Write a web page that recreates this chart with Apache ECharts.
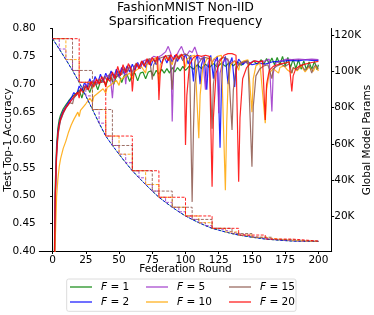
<!DOCTYPE html>
<html>
<head>
<meta charset="utf-8">
<script src="https://cdn.jsdelivr.net/npm/echarts@6/dist/echarts.min.js"></script>
<style>html,body{margin:0;padding:0;background:#fff}#c{width:374px;height:315px}</style>
</head>
<body>
<div id="c"></div>
<script>
// ---------------- data ----------------
const seriesNames = ['F=1', 'F=2', 'F=5', 'F=10', 'F=15', 'F=20'];
const frequencies = [1, 2, 5, 10, 15, 20];
const xTicks = [0, 25, 50, 75, 100, 125, 150, 175, 200];
const rightTicks = [20000, 40000, 60000, 80000, 100000, 120000];

// global model params (thousands) at every 5 rounds
const paramRounds = [0,5,10,15,20,25,30,35,40,45,50,55,60,65,70,75,80,85,90,95,100,105,110,115,120,125,130,135,140,145,150,155,160,165,170,175,180,185,190,195,200];
const paramsK = [118,112.3,106.5,100.5,94,86.5,79,71.5,64.4,59.2,54.4,49.7,45.3,41.4,37.7,34.1,30.7,27.9,25.2,22.7,20.4,18.5,16.7,15.1,13.6,12.6,11.6,10.7,9.9,9.3,8.7,8.2,7.7,7.4,7.1,6.85,6.6,6.5,6.45,6.43,6.42];

// test accuracy [round, acc]
const accF1 = [[1,0.33],[2,0.52],[3,0.59],[4,0.622],[5,0.637],[6,0.645],[8,0.656],[10,0.663],[12,0.67],[14,0.676],[16,0.68],[18,0.684],[20,0.69],[22,0.675],[24,0.693],[26,0.697],[28,0.685],[30,0.70],[32,0.703],[34,0.69],[36,0.705],[38,0.708],[40,0.698],[42,0.71],[44,0.712],[46,0.70],[48,0.714],[50,0.716],[52,0.703],[54,0.716],[56,0.718],[58,0.705],[60,0.718],[62,0.72],[64,0.706],[66,0.72],[68,0.722],[70,0.71],[72,0.722],[74,0.724],[76,0.715],[78,0.725],[80,0.718],[82,0.727],[84,0.72],[86,0.728],[88,0.72],[90,0.73],[92,0.722],[94,0.73],[96,0.724],[98,0.732],[100,0.725],[103,0.733],[106,0.727],[109,0.735],[112,0.728],[115,0.736],[118,0.73],[121,0.737],[124,0.731],[127,0.738],[130,0.732],[133,0.739],[136,0.733],[139,0.74],[142,0.734],[145,0.741],[148,0.735],[151,0.742],[154,0.736],[157,0.744],[159,0.736],[161,0.746],[163,0.737],[165,0.747],[167,0.735],[169,0.748],[171,0.735],[173,0.75],[175,0.733],[177,0.748],[179,0.73],[181,0.745],[183,0.728],[185,0.744],[187,0.727],[189,0.742],[191,0.726],[193,0.74],[195,0.727],[197,0.741],[199,0.726],[200,0.735]];
const accF2 = [[1,0.30],[2,0.50],[3,0.58],[4,0.615],[5,0.63],[6,0.64],[8,0.652],[10,0.66],[12,0.668],[14,0.675],[16,0.685],[18,0.68],[20,0.697],[22,0.688],[24,0.703],[26,0.694],[28,0.71],[30,0.698],[32,0.714],[34,0.702],[36,0.718],[38,0.705],[40,0.72],[42,0.708],[44,0.724],[46,0.712],[48,0.727],[50,0.715],[52,0.73],[54,0.718],[56,0.733],[58,0.722],[60,0.736],[62,0.725],[64,0.739],[66,0.728],[68,0.742],[70,0.73],[72,0.744],[74,0.733],[76,0.746],[78,0.735],[80,0.748],[82,0.737],[84,0.75],[86,0.738],[88,0.751],[90,0.74],[92,0.752],[94,0.741],[96,0.753],[98,0.742],[100,0.754],[102,0.736],[104,0.752],[106,0.705],[107,0.74],[109,0.752],[111,0.70],[112,0.735],[114,0.75],[116,0.69],[117,0.73],[119,0.752],[121,0.71],[122,0.74],[124,0.75],[126,0.586],[127,0.69],[128,0.735],[130,0.75],[132,0.70],[133,0.735],[135,0.748],[137,0.695],[138,0.73],[140,0.745],[143,0.735],[146,0.742],[150,0.735],[155,0.738],[160,0.736],[165,0.74],[170,0.741],[175,0.742],[180,0.743],[185,0.742],[190,0.744],[195,0.743],[200,0.743]];
const accF5 = [[1,0.30],[2,0.49],[3,0.575],[4,0.61],[5,0.625],[6,0.636],[8,0.648],[10,0.658],[13,0.668],[16,0.676],[19,0.684],[22,0.692],[25,0.696],[27,0.705],[29,0.697],[31,0.707],[33,0.70],[35,0.71],[37,0.703],[40,0.714],[43,0.717],[44,0.70],[45,0.675],[46,0.705],[48,0.72],[50,0.712],[52,0.724],[54,0.727],[55,0.70],[56,0.722],[58,0.73],[60,0.722],[62,0.733],[64,0.737],[66,0.73],[68,0.741],[70,0.744],[72,0.736],[74,0.746],[76,0.75],[79,0.748],[82,0.752],[85,0.758],[87,0.768],[89,0.755],[90,0.633],[91,0.72],[93,0.75],[95,0.76],[97,0.768],[99,0.755],[101,0.752],[103,0.76],[105,0.757],[107,0.767],[109,0.752],[111,0.745],[113,0.748],[115,0.69],[116,0.73],[118,0.745],[120,0.74],[122,0.745],[124,0.742],[125,0.648],[126,0.72],[128,0.74],[131,0.745],[134,0.738],[137,0.742],[140,0.735],[144,0.74],[148,0.737],[152,0.742],[156,0.74],[160,0.742],[163,0.745],[165,0.651],[166,0.72],[168,0.738],[172,0.742],[176,0.745],[180,0.744],[185,0.745],[190,0.744],[195,0.745],[200,0.744]];
const accF10 = [[1,0.28],[2,0.42],[3,0.498],[4,0.53],[5,0.552],[6,0.566],[8,0.585],[10,0.598],[12,0.614],[14,0.627],[16,0.637],[19,0.65],[20,0.642],[21,0.653],[23,0.659],[25,0.665],[28,0.675],[30,0.668],[31,0.678],[34,0.684],[38,0.692],[40,0.684],[41,0.694],[44,0.699],[48,0.707],[50,0.698],[51,0.708],[54,0.713],[58,0.72],[60,0.71],[61,0.722],[64,0.727],[67,0.731],[70,0.72],[71,0.736],[74,0.741],[78,0.748],[80,0.70],[81,0.735],[84,0.745],[87,0.748],[90,0.735],[91,0.745],[94,0.75],[97,0.752],[100,0.73],[101,0.745],[104,0.75],[107,0.752],[110,0.603],[111,0.68],[113,0.73],[116,0.745],[119,0.748],[120,0.735],[121,0.745],[124,0.75],[127,0.752],[130,0.51],[131,0.63],[132,0.70],[134,0.735],[137,0.742],[140,0.725],[141,0.738],[144,0.742],[147,0.744],[150,0.65],[151,0.71],[153,0.733],[156,0.738],[160,0.63],[161,0.69],[163,0.72],[166,0.728],[170,0.72],[171,0.73],[174,0.733],[177,0.725],[180,0.72],[181,0.73],[184,0.724],[187,0.733],[190,0.722],[193,0.731],[196,0.723],[198,0.732],[200,0.724]];
const accF15 = [[1,0.31],[2,0.49],[3,0.57],[4,0.607],[5,0.623],[6,0.635],[8,0.648],[10,0.657],[13,0.667],[15,0.665],[16,0.675],[19,0.684],[22,0.69],[24,0.697],[26,0.69],[28,0.702],[30,0.692],[31,0.704],[33,0.698],[35,0.709],[37,0.703],[39,0.714],[41,0.707],[43,0.719],[45,0.705],[46,0.718],[48,0.712],[50,0.724],[52,0.717],[54,0.73],[56,0.722],[58,0.734],[60,0.715],[61,0.73],[63,0.738],[65,0.73],[67,0.741],[69,0.734],[71,0.743],[73,0.746],[75,0.708],[76,0.735],[79,0.745],[82,0.748],[85,0.75],[88,0.752],[90,0.69],[91,0.73],[94,0.748],[97,0.752],[100,0.754],[103,0.75],[105,0.489],[106,0.62],[107,0.70],[109,0.735],[112,0.745],[115,0.748],[118,0.746],[120,0.62],[121,0.70],[123,0.735],[126,0.745],[129,0.748],[132,0.745],[135,0.618],[136,0.69],[138,0.728],[141,0.738],[144,0.74],[147,0.742],[150,0.552],[151,0.66],[153,0.715],[156,0.728],[159,0.733],[162,0.735],[165,0.71],[166,0.728],[169,0.733],[172,0.736],[175,0.732],[178,0.737],[180,0.72],[181,0.73],[184,0.726],[187,0.735],[190,0.725],[193,0.734],[195,0.72],[196,0.728],[198,0.735],[200,0.727]];
const accF20 = [[1,0.32],[2,0.50],[3,0.575],[4,0.612],[5,0.628],[6,0.638],[8,0.65],[10,0.658],[13,0.668],[16,0.678],[19,0.686],[20,0.675],[21,0.692],[23,0.685],[25,0.698],[27,0.69],[29,0.705],[31,0.695],[33,0.71],[35,0.70],[37,0.714],[39,0.705],[40,0.695],[41,0.712],[43,0.705],[45,0.722],[47,0.71],[49,0.732],[51,0.715],[53,0.735],[55,0.72],[57,0.737],[59,0.728],[60,0.687],[61,0.715],[63,0.737],[65,0.728],[67,0.742],[69,0.732],[71,0.746],[73,0.735],[75,0.748],[77,0.74],[79,0.75],[80,0.672],[81,0.72],[83,0.744],[85,0.752],[87,0.742],[89,0.753],[91,0.744],[93,0.754],[95,0.745],[97,0.754],[99,0.748],[100,0.591],[101,0.68],[103,0.735],[106,0.748],[109,0.752],[112,0.75],[115,0.752],[118,0.75],[120,0.516],[121,0.64],[123,0.72],[126,0.742],[129,0.752],[132,0.755],[135,0.755],[138,0.752],[140,0.525],[141,0.64],[143,0.71],[146,0.73],[149,0.738],[152,0.742],[155,0.74],[158,0.742],[160,0.636],[161,0.70],[163,0.725],[166,0.732],[169,0.735],[172,0.737],[175,0.738],[178,0.74],[180,0.687],[181,0.715],[183,0.728],[186,0.733],[190,0.736],[195,0.739],[200,0.741]];
const accAll = [accF1, accF2, accF5, accF10, accF15, accF20];

// ---------------- styles ----------------
const colors = ['#008000', '#0000ff', '#9b30c8', '#ffa500', '#8c564b', '#ff0000'];
const ff = 'DejaVu Sans';
const fs = 10.5;

function paramsFor(f) {
  const pts = [];
  for (let i = 0; i < paramRounds.length; i++) {
    const r = paramRounds[i];
    if (f <= 5 || r % f === 0) pts.push([r, paramsK[i] * 1000]);
  }
  if (pts[pts.length - 1][0] !== 200) pts.push([200, pts[pts.length - 1][1]]);
  return pts;
}

const series = [];
seriesNames.forEach((n, i) => {
  series.push({
    name: n, type: 'line', xAxisIndex: 0, yAxisIndex: 0, data: accAll[i],
    symbol: 'none', clip: true, color: colors[i], itemStyle: {color: colors[i]},
    lineStyle: {width: 1.2, color: colors[i], opacity: 0.85}, z: 2 + i
  });
});
seriesNames.forEach((n, i) => {
  const f = frequencies[i];
  series.push({
    name: n, type: 'line', xAxisIndex: 0, yAxisIndex: 1, data: paramsFor(f),
    step: f >= 5 ? 'end' : false, symbol: 'none', clip: true,
    color: colors[i], itemStyle: {color: colors[i]},
    lineStyle: {width: 1, color: colors[i], opacity: 0.85, type: [3, 1.5], dashOffset: i},
    z: 10 + i
  });
});

// legend: 3 columns x 2 rows (column-major like the reference)
const legendLefts = [70, 146, 229];
const legendTops = [281, 296];
const legends = seriesNames.map((n, i) => ({
  data: [n], left: legendLefts[Math.floor(i / 2)], top: legendTops[i % 2],
  icon: 'rect', itemWidth: 22, itemHeight: 1.5, padding: 0,
  selectedMode: false,
  itemStyle: {opacity: 0.75},
  formatter: (name) => '{i|F} = ' + name.split('=')[1],
  textStyle: {
    fontFamily: ff, fontSize: fs, color: '#000', lineHeight: 12, padding: [0, 0, 0, 4],
    rich: {i: {fontFamily: ff, fontSize: fs, fontStyle: 'italic', color: '#000', lineHeight: 12}}
  }
}));

const chart = echarts.init(document.getElementById('c'), null, {renderer: 'canvas'});
chart.setOption({
  animation: false,
  backgroundColor: '#fff',
  grid: {left: 39.3, right: 42.3, top: 28.5, bottom: 63.5},
  legend: legends,
  xAxis: {
    type: 'value', min: -10, max: 210,
    axisLine: {show: true, onZero: false, lineStyle: {color: '#000', width: 1}},
    axisTick: {show: true, length: 2.5, customValues: xTicks, lineStyle: {color: '#000'}},
    axisLabel: {customValues: xTicks, margin: 3, fontFamily: ff, fontSize: fs, color: '#000'},
    splitLine: {show: false}
  },
  yAxis: [{
    type: 'value', min: 0.4, max: 0.8, interval: 0.05, position: 'left',
    axisLine: {show: true, lineStyle: {color: '#000', width: 1}},
    axisTick: {show: true, length: 2.5, lineStyle: {color: '#000'}},
    axisLabel: {margin: 3.5, fontFamily: ff, fontSize: fs, color: '#000', formatter: v => v.toFixed(2)},
    splitLine: {show: false}
  }, {
    type: 'value', min: 840, max: 123600, position: 'right',
    axisLine: {show: true, lineStyle: {color: '#000', width: 1}},
    axisTick: {show: true, length: 2.5, customValues: rightTicks, lineStyle: {color: '#000'}},
    axisLabel: {customValues: rightTicks, margin: 2.5, fontFamily: ff, fontSize: fs, color: '#000', formatter: v => Math.round(v / 1000) + 'K'},
    splitLine: {show: false}
  }],
  graphic: [
    {type: 'text', x: 185.5, y: 14.5, style: {text: 'FashionMNIST Non-IID\nSparsification Frequency', fontFamily: ff, fontSize: 12.5, lineHeight: 14, fill: '#000', textAlign: 'center', textVerticalAlign: 'middle'}},
    {type: 'text', x: 8, y: 140, rotation: Math.PI / 2, style: {text: 'Test Top-1 Accuracy', fontFamily: ff, fontSize: fs, fill: '#000', textAlign: 'center', textVerticalAlign: 'middle'}},
    {type: 'text', x: 367, y: 140, rotation: Math.PI / 2, style: {text: 'Global Model Params', fontFamily: ff, fontSize: fs, fill: '#000', textAlign: 'center', textVerticalAlign: 'middle'}},
    {type: 'text', x: 185.5, y: 269, style: {text: 'Federation Round', fontFamily: ff, fontSize: fs, fill: '#000', textAlign: 'center', textVerticalAlign: 'middle'}},
    {type: 'rect', shape: {x: 66.7, y: 279, width: 229.3, height: 32.3, r: 2}, style: {fill: 'none', stroke: '#dcdcdc', lineWidth: 1}, z: 0}
  ],
  series: series
});
</script>
</body>
</html>
